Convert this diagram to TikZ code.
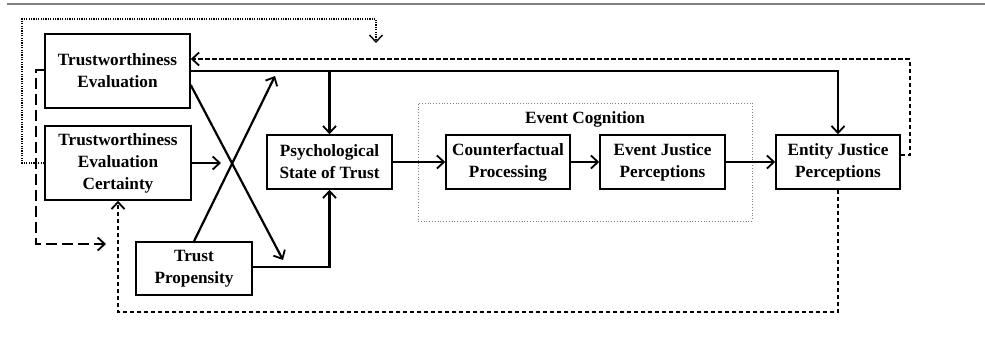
\documentclass[tikz,border=0pt]{standalone}
\usepackage{fontspec}
\setmainfont{Liberation Serif}
\usetikzlibrary{arrows.meta,calc}
\begin{document}
\begin{tikzpicture}[x=1pt,y=-1pt,
  box/.style={draw,line width=1.5pt,inner sep=0pt,align=center,
    font=\fontsize{17.2}{22}\selectfont\bfseries},
  solidarrow/.style={line width=2.2pt,-{Straight Barb[length=7pt,width=13pt,line width=1.8pt]}},
  shortdash/.style={line width=2pt,dash pattern=on 4.5pt off 2.5pt,-{Straight Barb[length=7pt,width=13pt,line width=1.8pt]}},
  longdash/.style={line width=2pt,dash pattern=on 11pt off 5pt,-{Straight Barb[length=7pt,width=13pt,line width=1.8pt]}},
  dotline/.style={line width=1.4pt,dash pattern=on 1.2pt off 1.2pt,-{Straight Barb[length=7pt,width=13pt,line width=1.4pt]}}]
\useasboundingbox (0,0) rectangle (985,340);
\draw[gray,line width=1.8pt] (7,4) -- (985,4);
% event cognition group
\node[draw=gray,line width=0.8pt,dotted,minimum width=334pt,minimum height=118pt,inner sep=0pt] (EC) at (585,162) {};
\node[font=\fontsize{17.2}{22}\selectfont\bfseries] (ECL) at (585,119) {Event Cognition};
% boxes
\node[box,minimum width=145pt,minimum height=74pt] (TE) at (117.5,71) {Trustworthiness\\Evaluation};
\node[box,minimum width=146pt,minimum height=74pt] (TEC) at (118,163) {Trustworthiness\\Evaluation\\Certainty};
\node[box,minimum width=116pt,minimum height=53pt] (TP) at (194,268.5) {Trust\\Propensity};
\node[box,minimum width=125pt,minimum height=54pt] (PS) at (329.5,162) {Psychological\\State of Trust};
\node[box,minimum width=124pt,minimum height=54pt] (CP) at (508,162) {Counterfactual\\Processing};
\node[box,minimum width=125pt,minimum height=54pt] (EJP) at (662.5,162) {Event Justice\\Perceptions};
\node[box,minimum width=124pt,minimum height=54pt] (NJP) at (838,162) {Entity Justice\\Perceptions};
% free ends
\coordinate (crossA) at (283,260);
\coordinate (crossB) at (275,76);
\coordinate (tecEnd) at (221,163);
\coordinate (ldEnd) at (106,244);
\coordinate (dotEnd) at (376,43);
% solid connectors
\draw[solidarrow] (TE.east) -| (NJP.north);
\draw[solidarrow] (PS.north |- TE.east) -- (PS.north);
\draw[solidarrow] ([yshift=-14pt]TE.east) -- (crossA);
\draw[solidarrow] (TP.north) -- (crossB);
\draw[solidarrow] (TEC.east) -- (tecEnd);
\draw[solidarrow] ([yshift=1.5pt]TP.east) -| (PS.south);
\draw[solidarrow] (PS.east) -- (CP.west);
\draw[solidarrow] (CP.east) -- (EJP.west);
\draw[solidarrow] (EJP.east) -- (NJP.west);
% dashed feedback
\draw[shortdash] ([yshift=7pt]NJP.east) -- ++(9,0) |- ([yshift=12pt]TE.east);
\draw[shortdash] (NJP.south) -- (NJP.south |- 0,312) -| (TEC.south);
\draw[longdash] ([yshift=1pt]TE.west) -| (36,244) -- (ldEnd);
\draw[dotline] (TEC.west) -| (22,19) -| (dotEnd);
\end{tikzpicture}
\end{document}
